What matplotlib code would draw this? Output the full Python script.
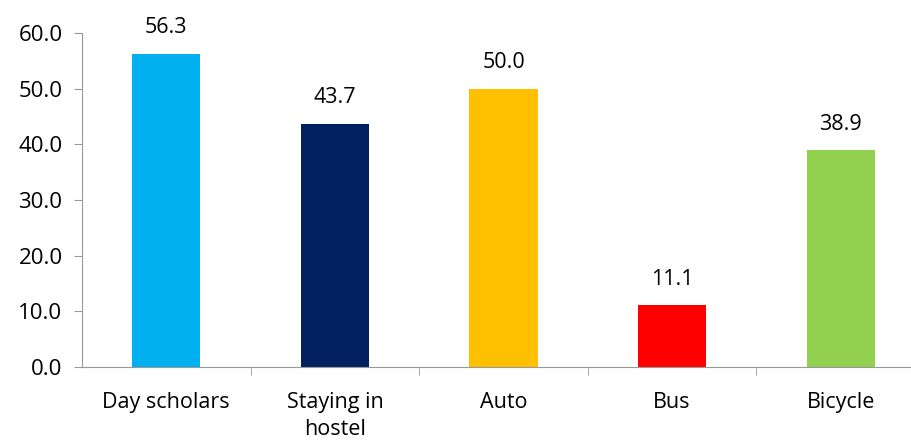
import matplotlib
matplotlib.use('Agg')
import matplotlib.pyplot as plt
import numpy as np

categories = ['Day scholars', 'Staying in\nhostel', 'Auto', 'Bus', 'Bicycle']
values = [56.3, 43.7, 50.0, 11.1, 38.9]
colors = ['#00B0F0', '#002060', '#FFC000', '#FF0000', '#92D050']

plt.rcParams['font.family'] = ['Open Sans', 'DejaVu Sans']

fig = plt.figure(figsize=(9.12, 4.42), dpi=100)
ax = fig.add_axes([82/912, 75/442, (925-82)/912, (367-33)/442])

x = np.arange(len(values))
bars = ax.bar(x, values, width=0.405, color=colors)

for xi, v in zip(x, values):
    ax.text(xi, v + 2.8, '%.1f' % v, ha='center', va='bottom', fontsize=15.5)

ax.set_xlim(-0.5, 4.5)
ax.set_ylim(0, 60)
ax.set_yticks(np.arange(0, 61, 10))
ax.set_yticklabels(['%.1f' % t for t in np.arange(0, 61, 10)], fontsize=16)

ax.set_xticks(x)
ax.set_xticklabels(categories, fontsize=15.5, linespacing=1.4, va='top')
ax.tick_params(axis='x', length=0, pad=18)
ax.set_xticks(np.arange(0.5, 4.5, 1), minor=True)
ax.tick_params(axis='x', which='minor', length=6, color='#999999')
ax.tick_params(axis='y', length=6, color='#999999', pad=8)

for s in ['top', 'right']:
    ax.spines[s].set_visible(False)
ax.spines['left'].set_color('#999999')
ax.spines['bottom'].set_color('#999999')

fig.savefig('out.png', dpi=100)
